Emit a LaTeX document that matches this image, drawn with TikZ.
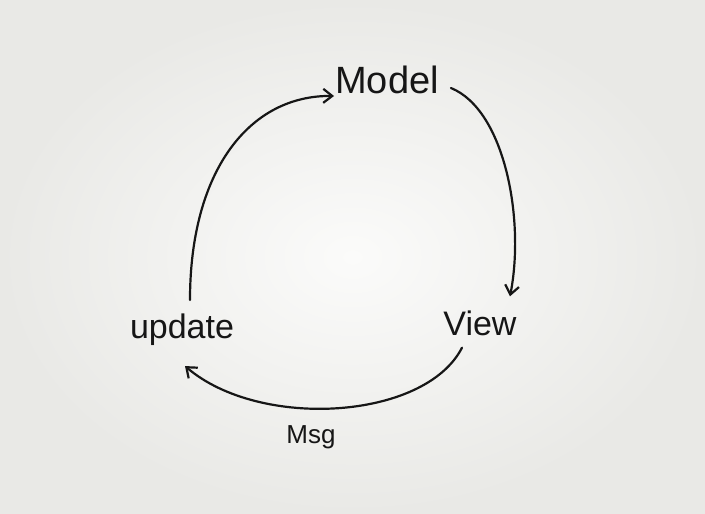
\documentclass[tikz,border=0pt]{standalone}
\usepackage{fontspec}
\setmainfont{Liberation Sans}
\usetikzlibrary{arrows.meta}
\definecolor{paper}{RGB}{251,251,250}
\definecolor{paperedge}{RGB}{233,233,230}
\definecolor{ink}{RGB}{22,22,22}
\tikzset{
  link/.style={draw=ink, line width=2.2pt, line cap=round,
    -{Straight Barb[length=9pt,width=14pt,line width=2.2pt]}},
  word/.style={inner sep=0pt, text=ink}
}
\begin{document}
\begin{tikzpicture}[x=1pt,y=-1pt]
\shade[inner color=paper, outer color=paperedge] (0,0) rectangle (705,514);
\node[word] (model) at (387,80) {\fontsize{38}{38}\selectfont Model};
\node[word] (view) at (480,323) {\fontsize{34}{34}\selectfont View};
\node[word] (update) at (182,330) {\fontsize{34}{34}\selectfont update};
\draw[link] ([xshift=8pt,yshift=14pt]update.north) .. controls (190,170) and (250,95) .. ([xshift=-1pt,yshift=-16pt]model.west);
\draw[link] ([xshift=12pt,yshift=-8pt]model.east) .. controls (505,110) and (525,220) .. ([xshift=30pt,yshift=14pt]view.north);
\draw[link] ([xshift=-18pt,yshift=-12pt]view.south) .. controls (425,420) and (260,430) .. node[word, pos=0.58, below=16pt] (msg) {\fontsize{26}{26}\selectfont Msg} ([xshift=3pt,yshift=-20pt]update.south);
\end{tikzpicture}
\end{document}
